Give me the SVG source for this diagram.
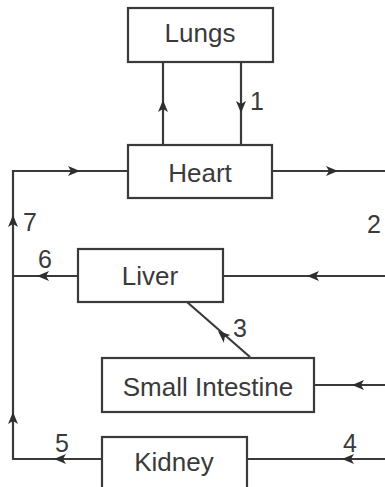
<svg xmlns="http://www.w3.org/2000/svg" width="385" height="487" viewBox="0 0 385 487">
<style>
.box{fill:#fff;stroke:#3a3a3a;stroke-width:2.2}
.ln{fill:none;stroke:#3a3a3a;stroke-width:2.2}
.ah{fill:#2e2e2e}
.t{font-family:"Liberation Sans",Arial,sans-serif;font-size:26px;fill:#3a3a3a;text-anchor:middle}
.n{font-family:"Liberation Sans",Arial,sans-serif;font-size:25px;fill:#3a3a3a;text-anchor:middle}
</style>
<defs>
<path id="ah" class="ah" d="M0,0 L-12,-5 L-9,0 L-12,5 Z"/>
</defs>
<rect width="385" height="487" fill="#fff"/>
<g id="connectors">
<path class="ln" d="M163,145 V62"/>
<path class="ln" d="M241,62 V145"/>
<path class="ln" d="M128,171 H13 V459 H102"/>
<path class="ln" d="M272,171 H385"/>
<path class="ln" d="M385,276 H223"/>
<path class="ln" d="M78,276 H13"/>
<path class="ln" d="M250,357 L187,302"/>
<path class="ln" d="M385,385 H314"/>
<path class="ln" d="M385,459 H247"/>
<use href="#ah" transform="translate(163,100) rotate(-90)"/>
<use href="#ah" transform="translate(241,113) rotate(90)"/>
<use href="#ah" transform="translate(80,171)"/>
<use href="#ah" transform="translate(13,215) rotate(-90)"/>
<use href="#ah" transform="translate(13,412) rotate(-90)"/>
<use href="#ah" transform="translate(338,171)"/>
<use href="#ah" transform="translate(307,276) rotate(180)"/>
<use href="#ah" transform="translate(37,276) rotate(180)"/>
<use href="#ah" transform="translate(218,331) rotate(221.1)"/>
<use href="#ah" transform="translate(352,385) rotate(180)"/>
<use href="#ah" transform="translate(342,459) rotate(180)"/>
<use href="#ah" transform="translate(54,459) rotate(180)"/>
<text class="n" x="257" y="110">1</text>
<text class="n" x="374" y="233">2</text>
<text class="n" x="240" y="337">3</text>
<text class="n" x="350" y="452">4</text>
<text class="n" x="62" y="452">5</text>
<text class="n" x="45" y="268">6</text>
<text class="n" x="30" y="231">7</text>
</g>
<g id="lungs">
<rect class="box" x="128" y="8" width="145" height="54"/>
<text class="t" x="200" y="42">Lungs</text>
</g>
<g id="heart">
<rect class="box" x="128" y="145" width="144" height="53"/>
<text class="t" x="200" y="182">Heart</text>
</g>
<g id="liver">
<rect class="box" x="78" y="249" width="145" height="53"/>
<text class="t" x="150" y="285">Liver</text>
</g>
<g id="small-intestine">
<rect class="box" x="102" y="358" width="212" height="54"/>
<text class="t" x="208" y="396">Small Intestine</text>
</g>
<g id="kidney">
<rect class="box" x="102" y="437" width="145" height="60"/>
<text class="t" x="174" y="471">Kidney</text>
</g>
</svg>
